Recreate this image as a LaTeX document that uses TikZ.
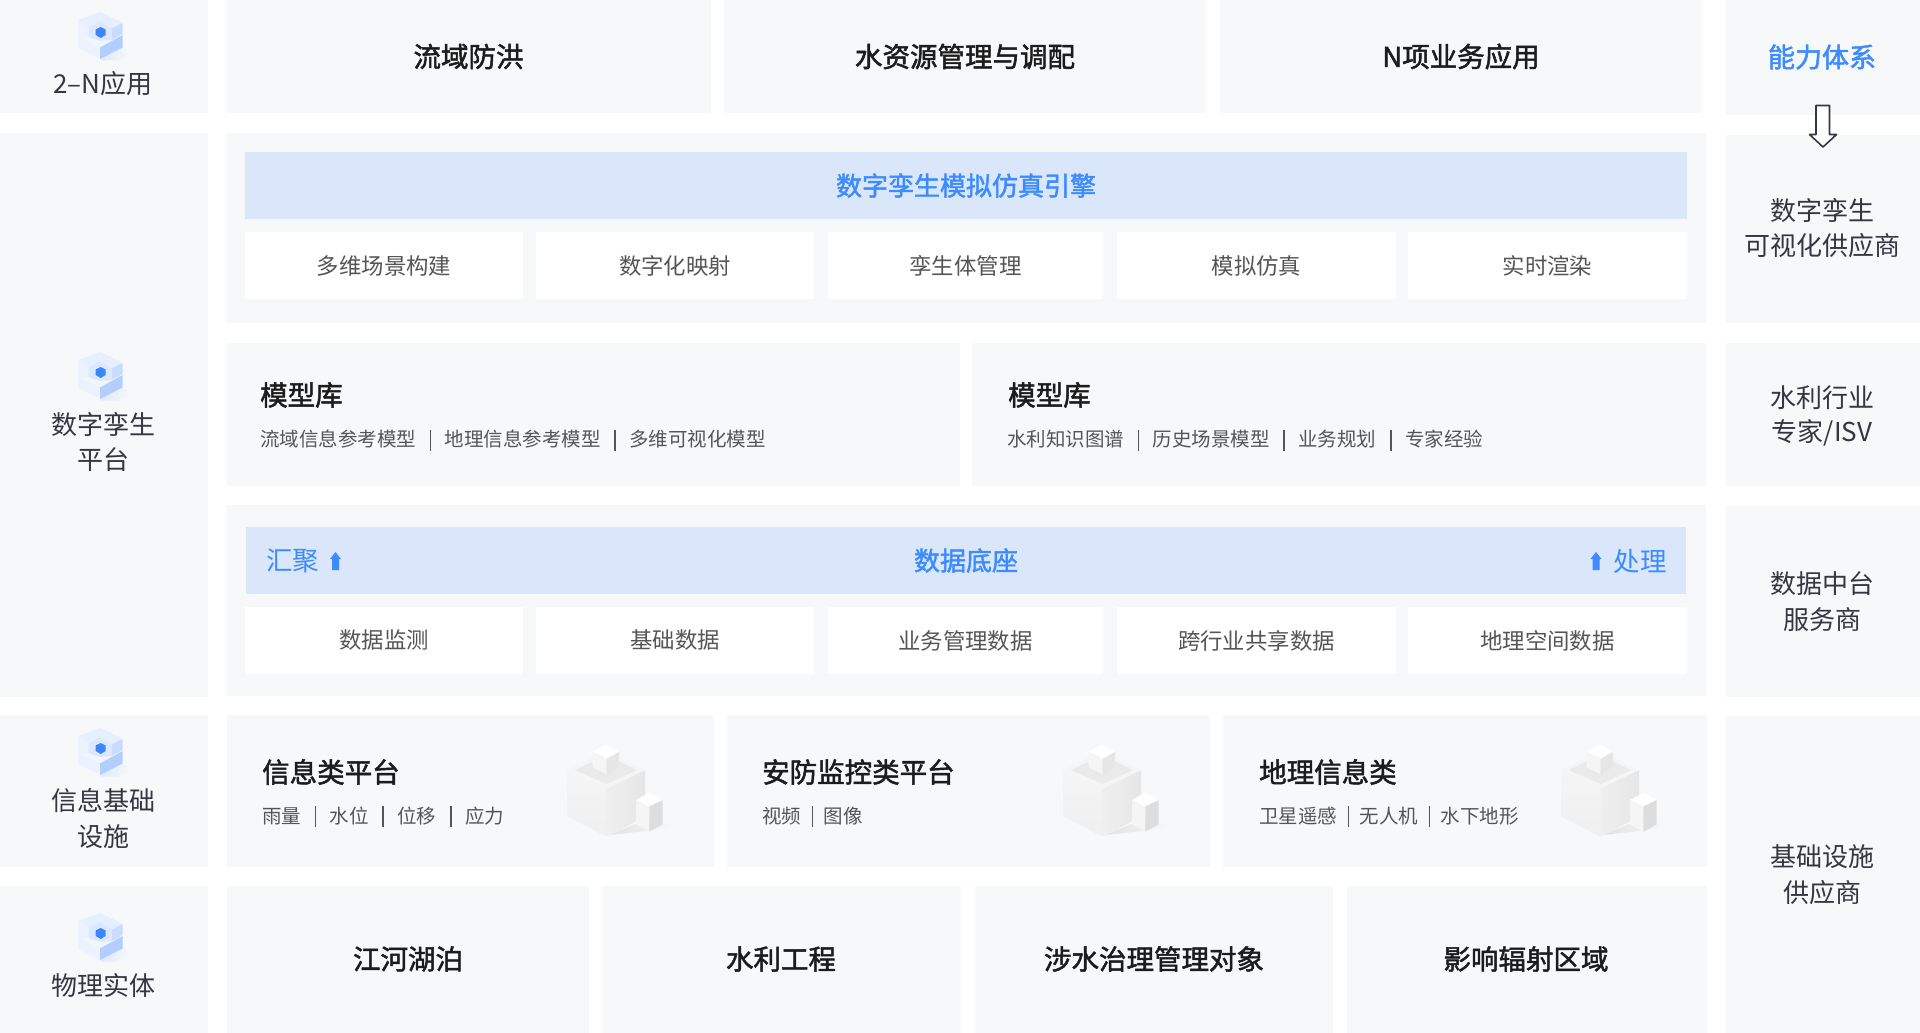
\documentclass[tikz,border=0pt]{standalone}
\usepackage{fontspec}
\setmainfont{Noto Sans CJK SC}
\newfontfamily\medfont{Noto Sans CJK SC}[FakeBold=1.8]
\definecolor{panelbg}{HTML}{F7F8FA}
\definecolor{barblue}{HTML}{DAE7FA}
\definecolor{txtblue}{HTML}{3D8BFF}
\definecolor{txtdark}{HTML}{333740}
\definecolor{txtgray}{HTML}{555555}
\definecolor{txtblack}{HTML}{1C1C1C}
\definecolor{IconPale}{HTML}{EDF3FE}
\definecolor{IconTop}{HTML}{E6EFFF}
\definecolor{IconSide}{HTML}{C8DCFF}
\definecolor{IconFront}{HTML}{B2CEFF}
\definecolor{IconWin}{HTML}{DBE8FF}
\definecolor{IconCore}{HTML}{3D86F7}
\definecolor{BldA}{HTML}{F5F5F5}
\definecolor{BldB}{HTML}{EFEFEF}
\definecolor{BldC}{HTML}{E6E6E6}
\definecolor{BldD}{HTML}{DDDDDD}
\definecolor{BldE}{HTML}{EAEAEA}
\newcommand{\fs}[1]{\fontsize{#1}{#1}\selectfont}
\newcommand{\sepbar}[1][14pt]{\hspace{#1}\rule[-4pt]{1.6pt}{21pt}\hspace{#1}}
\newcommand{\pbox}[6][panel]{\pgfmathsetmacro\bw{#5-#3}\pgfmathsetmacro\bh{#6-#4}\node[#1,minimum width=\bw pt,minimum height=\bh pt,anchor=north west] (#2) at (#3,#4) {};}
\tikzset{
  panel/.style={fill=panelbg,draw=none,inner sep=0pt,outer sep=0pt},
  bluebar/.style={fill=barblue,draw=none,inner sep=0pt,outer sep=0pt},
  whitecell/.style={fill=white,draw=none,inner sep=0pt,outer sep=0pt},
  sidelabel/.style={inner sep=0pt,text=txtdark,font=\fs{26}},
  headlabel/.style={inner sep=0pt,text=txtblack,font=\fs{27.5}\medfont},
  celllabel/.style={inner sep=0pt,text=txtgray,font=\fs{22.4}},
  bartitle/.style={inner sep=0pt,text=txtblue,font=\fs{26}\medfont},
  bartext/.style={inner sep=0pt,text=txtblue,font=\fs{26.5}},
  itemlabel/.style={inner sep=0pt,anchor=west,text=txtgray,font=\fs{19.5}},
  leftlabel/.style={inner sep=0pt,anchor=west,text=txtblack,font=\fs{27.5}\medfont},
  cubeicon/.pic={
    \shade[left color=IconFront!35!panelbg,right color=panelbg] (22,44) -- (43,34) -- (52,42) -- (40,47.5) -- (22,47.5) -- cycle;
    \fill[IconTop] (-1,7) -- (21.7,-1) -- (43.5,10) -- (33,15.5) -- (21.7,8.5) -- (9.5,14) -- cycle;
    \fill[IconPale] (-1,7) -- (9.5,14) -- (9.5,24) -- (-1,24) -- cycle;
    \fill[IconSide] (33,15.5) -- (43.5,10) -- (43.5,21) -- (33,27) -- cycle;
    \fill[IconWin] (9.5,14) -- (21.7,8.5) -- (33,15.5) -- (33,27) -- (21,34) -- (9.5,24) -- cycle;
    \fill[IconCore] (21.7,14) -- (26.7,16.5) -- (26.7,22) -- (21.7,25) -- (16.7,22) -- (16.7,16.5) -- cycle;
    \fill[panelbg!40!IconPale] (-1,24) -- (9.5,24) -- (21,28) -- (33,27) -- (21,34) -- cycle;
    \fill[IconPale] (-1,24) -- (21,34.5) -- (21,46) -- (-1,35) -- cycle;
    \fill[IconFront] (21,34.5) -- (43.5,22) -- (43.5,34.5) -- (21,46) -- cycle;
  },
  blockicon/.pic={
    \shade[left color=black!9!panelbg,right color=panelbg] (42,90) -- (80,74) -- (105,81) -- (80,86) -- cycle;
    \shade[top color=BldA,bottom color=BldB] (0.3,25) -- (39.7,43.3) -- (39.7,91.7) -- (0.3,71.7) -- cycle;
    \shade[left color=BldB,right color=BldC] (39.7,43.3) -- (78,25) -- (78,71.7) -- (39.7,91.7) -- cycle;
    \fill[BldA] (0.3,25) -- (39,6) -- (78,25) -- (39.7,43.3) -- cycle;
    \fill[BldE] (8,25) -- (39,10) -- (70,25) -- (39.7,39) -- cycle;
    \fill[white] (25.7,6.7) -- (38.7,-0.7) -- (52,6.7) -- (39.7,14) -- cycle;
    \fill[BldA] (25.7,6.7) -- (39.7,14) -- (39.7,29.3) -- (25.7,22.3) -- cycle;
    \fill[BldC] (39.7,14) -- (52,6.7) -- (52,21.7) -- (39.7,29.3) -- cycle;
    \fill[white] (69,55) -- (82.3,47.7) -- (95.7,55) -- (82.3,61.7) -- cycle;
    \fill[BldA] (69,55) -- (82.3,61.7) -- (82.3,86.7) -- (69,79.3) -- cycle;
    \fill[BldD] (82.3,61.7) -- (95.7,55) -- (95.7,79.3) -- (82.3,86.7) -- cycle;
  }
}
\begin{document}
\begin{tikzpicture}[x=1pt,y=-1pt]
\useasboundingbox (0,0) rectangle (1920,1033);
% left column
\pbox{L1}{0}{0}{208}{113}
\pbox{L2}{0}{133}{208}{697}
\pbox{L3}{0}{715}{208}{867}
\pbox{L4}{0}{886}{208}{1033}
% right column
\pbox{R1}{1726}{0}{1920}{115}
\pbox{R2}{1726}{135}{1920}{323}
\pbox{R3}{1726}{343}{1920}{486}
\pbox{R4}{1726}{506}{1920}{697}
\pbox{R5}{1726}{716}{1920}{1033}
% top row
\pbox{T1}{226}{0}{711}{113}
\pbox{T2}{724}{0}{1206}{113}
\pbox{T3}{1220}{0}{1702}{113}
\node[headlabel] (T1t) at (T1) {流域防洪};
\node[headlabel] (T2t) at (T2) {水资源管理与调配};
\node[headlabel] (T3t) at (T3) {N项业务应用};
% engine panel
\pbox{E}{226}{133}{1706}{323}
\pbox[bluebar]{Eb}{245}{152}{1687}{219}
\node[bartitle] (Ebt) at (Eb) {数字孪生模拟仿真引擎};
\pbox[whitecell]{E1}{245}{232}{523}{299}
\pbox[whitecell]{E2}{536}{232}{814}{299}
\pbox[whitecell]{E3}{828}{232}{1103}{299}
\pbox[whitecell]{E4}{1117}{232}{1396}{299}
\pbox[whitecell]{E5}{1408}{232}{1687}{299}
\node[celllabel] (E1t) at (E1) {多维场景构建};
\node[celllabel] (E2t) at (E2) {数字化映射};
\node[celllabel] (E3t) at (E3) {孪生体管理};
\node[celllabel] (E4t) at (E4) {模拟仿真};
\node[celllabel] (E5t) at (E5) {实时渲染};
% model libraries
\pbox{M1}{226}{343}{960}{486}
\pbox{M2}{972}{343}{1706}{486}
\node[leftlabel] (M1t) at (260,395) {模型库};
\node[leftlabel] (M2t) at (1008,395) {模型库};
\node[itemlabel] (M1i) at (260,440) {流域信息参考模型\sepbar[13.5pt]地理信息参考模型\sepbar[13.5pt]多维可视化模型};
\node[itemlabel] (M2i) at (1007,440) {水利知识图谱\sepbar[13.5pt]历史场景模型\sepbar[13.5pt]业务规划\sepbar[13.5pt]专家经验};
% data panel
\pbox{D}{226}{505}{1706}{696}
\pbox[bluebar]{Db}{246}{527}{1686}{594}
\node[bartitle] (Dbt) at (Db) {数据底座};
\node[bartext,anchor=west] (Dl) at (266,561) {汇聚};
\node[bartext,anchor=east] (Dr) at (1667,561) {处理};
\fill[txtblue] (330,559) -- (335.5,552) -- (341,559) -- (339,559) -- (339,570) -- (332,570) -- (332,559) -- cycle;
\fill[txtblue] (1590.5,559) -- (1596,552) -- (1601.5,559) -- (1599.5,559) -- (1599.5,570) -- (1592.5,570) -- (1592.5,559) -- cycle;
\pbox[whitecell]{D1}{245}{607}{523}{674}
\pbox[whitecell]{D2}{536}{607}{814}{674}
\pbox[whitecell]{D3}{828}{607}{1103}{674}
\pbox[whitecell]{D4}{1117}{607}{1396}{674}
\pbox[whitecell]{D5}{1408}{607}{1687}{674}
\node[celllabel] (D1t) at (D1) {数据监测};
\node[celllabel] (D2t) at (D2) {基础数据};
\node[celllabel] (D3t) at (D3) {业务管理数据};
\node[celllabel] (D4t) at (D4) {跨行业共享数据};
\node[celllabel] (D5t) at (D5) {地理空间数据};
% info row
\pbox{I1}{227}{715}{714}{867}
\pbox{I2}{727}{715}{1210}{867}
\pbox{I3}{1223}{715}{1707}{867}
\pic at (567,745) {blockicon};
\pic at (1063,745) {blockicon};
\pic at (1561,745) {blockicon};
\node[leftlabel] (I1t) at (262,772) {信息类平台};
\node[leftlabel] (I2t) at (762,772) {安防监控类平台};
\node[leftlabel] (I3t) at (1259,772) {地理信息类};
\node[itemlabel] (I1i) at (262,816.5) {雨量\sepbar[13.5pt]水位\sepbar[13.5pt]位移\sepbar[13.5pt]应力};
\node[itemlabel] (I2i) at (762,816.5) {视频\sepbar[10.5pt]图像};
\node[itemlabel] (I3i) at (1259,816.5) {卫星遥感\sepbar[10.5pt]无人机\sepbar[10.5pt]水下地形};
% physical row
\pbox{P1}{227}{886}{589}{1033}
\pbox{P2}{602}{886}{961}{1033}
\pbox{P3}{975}{886}{1333}{1033}
\pbox{P4}{1347}{886}{1707}{1033}
\node[headlabel] (P1t) at (408,959) {江河湖泊};
\node[headlabel] (P2t) at (781,959) {水利工程};
\node[headlabel] (P3t) at (1154,959) {涉水治理管理对象};
\node[headlabel] (P4t) at (1526,959) {影响辐射区域};
% left labels and icons
\pic at (79,13) {cubeicon};
\pic at (79,353) {cubeicon};
\pic at (79,729) {cubeicon};
\pic at (79,914) {cubeicon};
\node[sidelabel] (La) at (103,84) {2–N应用};
\node[sidelabel] (Lb1) at (103,424) {数字孪生};
\node[sidelabel] (Lb2) at (103,459.5) {平台};
\node[sidelabel] (Lc1) at (103,801) {信息基础};
\node[sidelabel] (Lc2) at (103,836.5) {设施};
\node[sidelabel] (Ld) at (103,986) {物理实体};
% right labels
\node[sidelabel,text=txtblue,font=\fs{27}\medfont] (Ra) at (1822,57) {能力体系};
\node[sidelabel] (Rb1) at (1822,211) {数字孪生};
\node[sidelabel] (Rb2) at (1822,246) {可视化供应商};
\node[sidelabel] (Rc1) at (1822,398) {水利行业};
\node[sidelabel] (Rc2) at (1822,433) {专家/ISV};
\node[sidelabel] (Rd1) at (1822,584) {数据中台};
\node[sidelabel] (Rd2) at (1822,620) {服务商};
\node[sidelabel] (Re1) at (1822,857) {基础设施};
\node[sidelabel] (Re2) at (1822,893) {供应商};
% capability arrow
\filldraw[fill=white,draw=txtdark,line width=1.6pt,line join=round] (1816,105.5) -- (1829.5,105.5) -- (1829.5,134.5) -- (1836.5,134.5) -- (1823,147) -- (1809.5,134.5) -- (1816,134.5) -- cycle;
\end{tikzpicture}
\end{document}
